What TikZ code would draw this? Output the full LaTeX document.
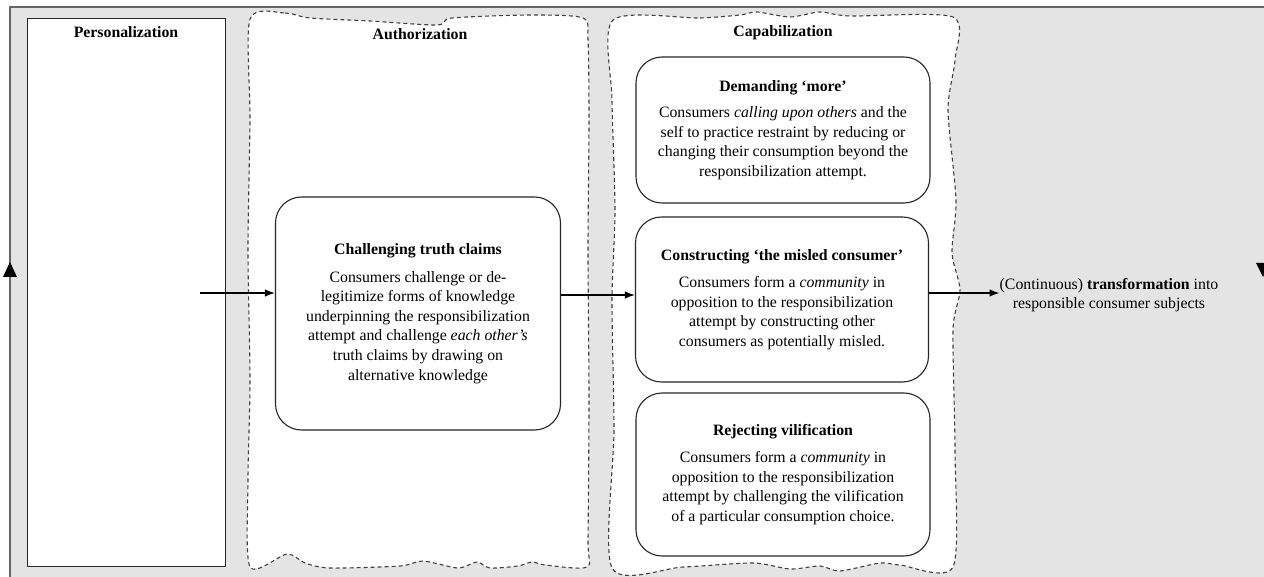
\documentclass[tikz,border=0pt]{standalone}
\usepackage{fontspec}
\setmainfont{Liberation Serif}
\usetikzlibrary{arrows.meta}
\begin{document}
\begin{tikzpicture}[x=1pt,y=-1pt,
  txt/.style={font=\fontsize{15.8}{19.6}\selectfont, align=center, inner sep=0pt},
  card/.style={draw=black!85, line width=1.1pt, fill=white, rounded corners=26pt, txt},
  ttl/.style={font=\fontsize{15.8}{18}\selectfont\bfseries, inner sep=0pt},
  zone/.style={draw=black!75, line width=1.1pt, dash pattern=on 4pt off 3pt, fill=white},
  arr/.style={-{Latex[length=10pt,width=7.5pt]}, line width=1.3pt},
  frameline/.style={draw=black!60, line width=2pt},
  ]
\definecolor{panelgray}{HTML}{E4E4E4}
\useasboundingbox (0,0) rectangle (1264,577);
\fill[white] (0,0) rectangle (1264,577);
% outer panel
\fill[panelgray] (10,7) rectangle (1270,580);
\draw[frameline] (10,580) -- (10,7) -- (1270,7);

% first stage
\node[draw=black!85, line width=1.1pt, fill=white, minimum width=198pt, minimum height=548pt, anchor=north west, inner sep=0pt] (pers) at (27,18) {};
\node[ttl] (persT) at (126,32) {Personalization};

% second stage: wavy dashed zone
\draw[zone] plot[smooth cycle, tension=0.45] coordinates {
  (250,19) (285,13) (310,18) (370,21) (437,25)
  (452,18) (530,15) (583,18) (588,40) (589,120)
  (588,250) (589,400) (588,540) (587,567)
  (545,565) (532,562) (518,566) (490,568) (477,562) (458,568)
  (423,561) (400,566) (330,568) (305,563) (287,554)
  (250,567) (248,480) (250,380) (248,250) (250,120)};
\node[ttl] (authT) at (420,34) {Authorization};

% third stage: wavy dashed zone
\draw[zone] plot[smooth cycle, tension=0.45] coordinates {
  (613,20) (700,18) (740,15) (757,12) (790,17) (820,12) (850,16) (953,17)
  (955,60) (948,110) (956,200) (952,253) (960,290) (953,330) (955,450)
  (953,567) (900,565) (880,563) (840,571) (820,566) (790,569) (753,563)
  (683,567) (612,568) (614,430) (612,300) (615,210) (612,100)};
\node[ttl] (capT) at (783,33) {Capabilization};

% cards
\node[card, minimum width=285pt, minimum height=233pt] (chal) at (418,313.5) {%
  \textbf{Challenging truth claims}\\[8pt]
  Consumers challenge or de-\\
  legitimize forms of knowledge\\
  underpinning the responsibilization\\
  attempt and challenge \textit{each other’s}\\
  truth claims by drawing on\\
  alternative knowledge};

\node[card, minimum width=294pt, minimum height=146pt] (dem) at (783,130) {%
  \textbf{Demanding ‘more’}\\[7pt]
  Consumers \textit{calling upon others} and the\\
  self to practice restraint by reducing or\\
  changing their consumption beyond the\\
  responsibilization attempt.};

\node[card, minimum width=293pt, minimum height=165pt] (cons) at (782,299.5) {%
  \textbf{Constructing ‘the misled consumer’}\\[8pt]
  Consumers form a \textit{community} in\\
  opposition to the responsibilization\\
  attempt by constructing other\\
  consumers as potentially misled.};

\node[card, minimum width=294pt, minimum height=163pt] (rej) at (783,474.5) {%
  \textbf{Rejecting vilification}\\[8pt]
  Consumers form a \textit{community} in\\
  opposition to the responsibilization\\
  attempt by challenging the vilification\\
  of a particular consumption choice.};

% outcome
\node[txt] (out) at (1109,295) {(Continuous) \textbf{transformation} into\\responsible consumer subjects};

% connectors
\coordinate (start) at (200,293);
\draw[arr] (start) -- (chal.west |- start);
\draw[arr] (chal.east |- 0,295) -- (cons.west |- 0,295);
\draw[arr] (cons.east |- 0,293) -- (out.west |- 0,293);

% cycle markers on the panel frame
\fill (3,277) -- (17,277) -- (10,262) -- cycle;
\fill (1256,263) -- (1270,263) -- (1263,277) -- cycle;
\end{tikzpicture}
\end{document}
